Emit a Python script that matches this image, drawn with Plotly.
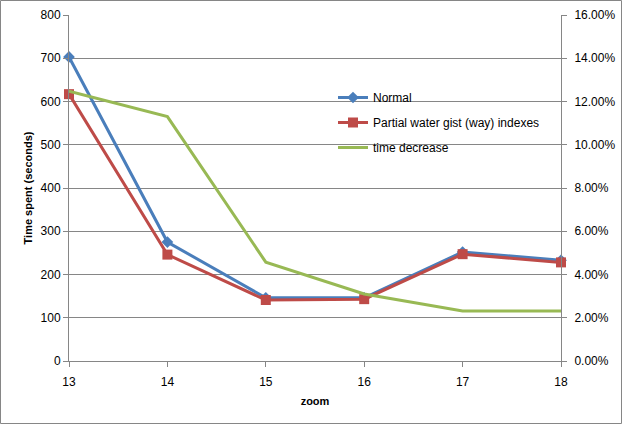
import plotly.graph_objects as go

zoom = [13, 14, 15, 16, 17, 18]
normal = [703, 275, 146, 146, 252, 233]
partial = [617, 246, 141, 143, 247, 228]
time_decrease = [0.1248, 0.1130, 0.0457, 0.0310, 0.0231, 0.0231]

W, H = 623, 425
L, R, T, B = 69, 62, 15, 64
pw, ph = W - L - R, H - T - B

font = dict(family="Liberation Sans, Arial, sans-serif", size=12, color="#000000")
grid = "#868686"

fig = go.Figure()
fig.add_trace(go.Scatter(x=zoom, y=normal, name="Normal", mode="lines+markers",
                         line=dict(color="#4A7EBB", width=3),
                         marker=dict(symbol="diamond", size=9, color="#4A7EBB"),
                         cliponaxis=False, legendgroup="a"))
fig.add_trace(go.Scatter(x=zoom, y=partial, name="Partial water gist (way) indexes", mode="lines+markers",
                         line=dict(color="#BE4B48", width=3),
                         marker=dict(symbol="square", size=10, color="#BE4B48"),
                         cliponaxis=False, legendgroup="b"))
fig.add_trace(go.Scatter(x=zoom, y=time_decrease, name="time decrease", mode="lines",
                         line=dict(color="#98B954", width=3), yaxis="y2",
                         cliponaxis=False, legendgroup="c"))

fig.update_layout(
    width=W, height=H,
    margin=dict(l=L, r=R, t=T, b=B),
    paper_bgcolor="white", plot_bgcolor="white",
    font=font,
    showlegend=True,
    legend=dict(x=(333 - L) / pw, y=1 - (83 - T) / ph, xanchor="left", yanchor="top",
                bgcolor="rgba(0,0,0,0)", font=dict(size=12, color="#000000"),
                tracegroupgap=6, itemwidth=30, traceorder="grouped"),
    xaxis=dict(range=[13, 18], tickmode="array", tickvals=zoom, ticktext=[str(z) for z in zoom],
               showgrid=False, zeroline=False, showline=True, linecolor=grid, linewidth=1,
               ticks="outside", ticklen=5, tickcolor=grid, ticklabelstandoff=5,
               automargin=False,
               title=dict(text="<b>zoom</b>", font=dict(size=11), standoff=8)),
    yaxis=dict(range=[0, 800], dtick=100, showgrid=True, gridcolor=grid, gridwidth=1,
               zeroline=False, showline=True, linecolor=grid, ticks="outside", ticklen=5,
               tickcolor=grid, automargin=False,
               title=dict(text="<b>Time spent (seconds)</b>", font=dict(size=11), standoff=5)),
    yaxis2=dict(range=[0, 0.16], dtick=0.02, tickformat=".2%", overlaying="y", side="right",
                showgrid=False, zeroline=False, showline=True, linecolor=grid,
                ticks="outside", ticklen=5, tickcolor=grid, ticklabelstandoff=5,
                automargin=False),
)

fig.add_shape(type="rect", xref="paper", yref="paper",
              x0=(-L + 0.5) / pw, x1=(pw + R - 1.5) / pw,
              y0=(-B + 1.5) / ph, y1=(ph + T - 0.5) / ph,
              line=dict(color="#868686", width=1), fillcolor="rgba(0,0,0,0)", layer="below")

fig.write_html("out.html", config={"displayModeBar": False},
               post_script="document.body.style.margin='0';document.body.style.overflow='hidden';")
